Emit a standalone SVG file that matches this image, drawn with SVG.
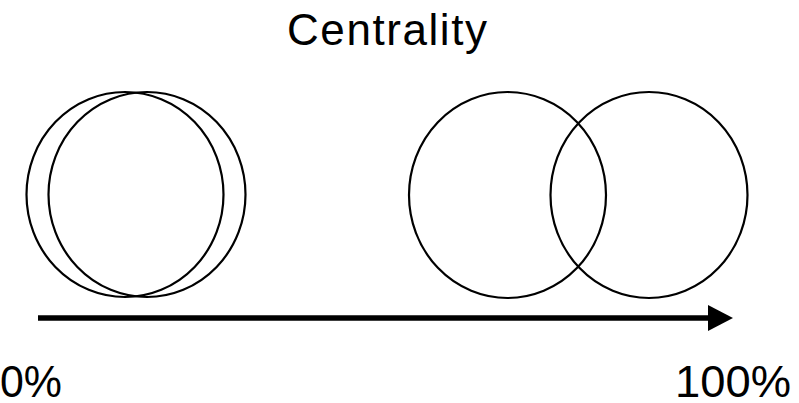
<svg xmlns="http://www.w3.org/2000/svg" width="799" height="403" viewBox="0 0 799 403">
<style>
.c{fill:none;stroke:#000;stroke-width:2.2}
.t{font-family:"Liberation Sans",Arial,sans-serif;fill:#000}
</style>
<defs>
<marker id="ah" markerUnits="userSpaceOnUse" markerWidth="27" markerHeight="28" refX="0" refY="14" orient="auto">
<path d="M0,1 L25,14 L0,27 Z" fill="#000"/>
</marker>
</defs>
<rect width="799" height="403" fill="#fff"/>
<text class="t" x="287" y="45" font-size="44" textLength="200" lengthAdjust="spacing">Centrality</text>
<g id="left-a"><ellipse class="c" cx="125" cy="194.5" rx="98.5" ry="102.5"/></g>
<g id="left-b"><ellipse class="c" cx="147" cy="194.5" rx="98.5" ry="102.5"/></g>
<g id="right-a"><ellipse class="c" cx="507.5" cy="195" rx="98.5" ry="103"/></g>
<g id="right-b"><ellipse class="c" cx="649" cy="195" rx="98.5" ry="103"/></g>
<g id="connectors">
<line x1="38" y1="318" x2="708" y2="318" stroke="#000" stroke-width="5.5" marker-end="url(#ah)"/>
</g>
<text class="t" x="0" y="397" font-size="44" textLength="62" lengthAdjust="spacingAndGlyphs">0%</text>
<text class="t" x="675" y="397" font-size="44" textLength="116" lengthAdjust="spacingAndGlyphs">100%</text>
</svg>
